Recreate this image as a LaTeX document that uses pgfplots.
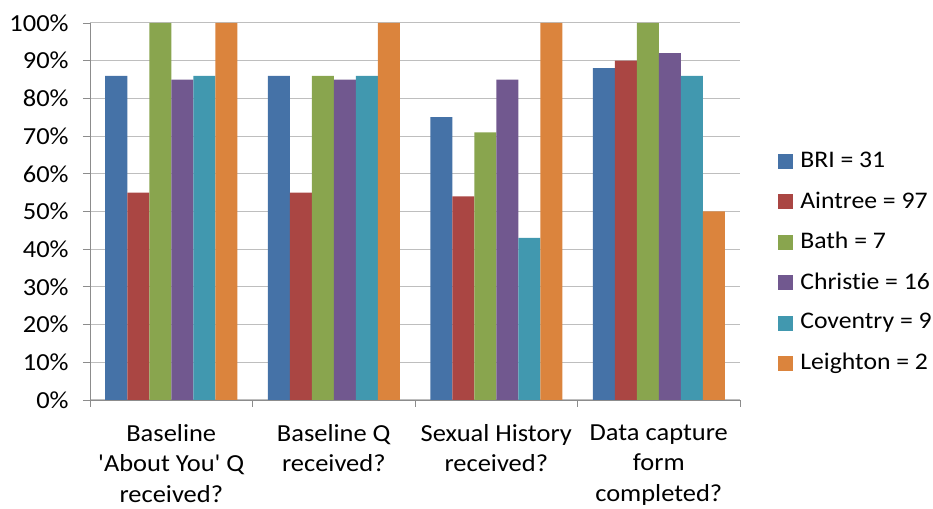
\documentclass[border=0pt]{standalone}
\usepackage{pgfplots}
\pgfplotsset{compat=1.18}
\usepackage{fontspec}
\setmainfont{Carlito}[Ligatures={TeXOff,CommonOff}, FakeStretch=1.08]

\definecolor{cBRI}{HTML}{4572A7}
\definecolor{cAin}{HTML}{AA4643}
\definecolor{cBath}{HTML}{89A54E}
\definecolor{cChr}{HTML}{71588F}
\definecolor{cCov}{HTML}{4198AF}
\definecolor{cLei}{HTML}{DB843D}
\definecolor{gridc}{HTML}{BEBEBE}
\definecolor{axisc}{HTML}{8C8C8C}

\begin{document}
\fontsize{24.5}{30.5}\selectfont
\begin{tikzpicture}
\useasboundingbox (0,0) rectangle (933pt,508pt);
\begin{axis}[
    at={(90pt,108pt)}, anchor=south west,
    scale only axis, width=650pt, height=377pt,
    ybar=0pt, bar width=22pt,
    xmin=0, xmax=4, ymin=0, ymax=100,
    axis lines=left, axis line style={-, draw=axisc, line width=0.8pt},
    xtick={0,1,2,3,4},
    x tick label as interval,
    xticklabels={Baseline\\'About You' Q\\received?, Baseline Q\\received?, Sexual History\\received?, Data capture\\form\\completed?},
    xticklabel style={align=center, anchor=north, yshift=-9pt},
    ytick={0,10,...,100},
    yticklabels={0\%,10\%,20\%,30\%,40\%,50\%,60\%,70\%,80\%,90\%,100\%},
    yticklabel style={anchor=east, xshift=-6pt},
    tick align=outside, major tick length=7pt,
    tick style={draw=axisc, line width=0.8pt},
    ymajorgrids, major grid style={draw=gridc, line width=1pt},
    legend style={at={(1.054,0.692)}, anchor=north west, draw=none, fill=none,
        font=\fontsize{23.8}{29}\selectfont,
        row sep=0pt, nodes={inner sep=0pt, minimum height=40.4pt, anchor=west},
        /tikz/every odd column/.append style={column sep=7pt}},
    legend cell align=left,
    legend image code/.code={\fill[#1] (0pt,-7.5pt) rectangle (15pt,7.5pt);},
]
\addplot[fill=cBRI, draw=none] coordinates {(0.5,86) (1.5,86) (2.5,75) (3.5,88)};
\addlegendentry{BRI = 31}
\addplot[fill=cAin, draw=none] coordinates {(0.5,55) (1.5,55) (2.5,54) (3.5,90)};
\addlegendentry{Aintree = 97}
\addplot[fill=cBath, draw=none] coordinates {(0.5,100) (1.5,86) (2.5,71) (3.5,100)};
\addlegendentry{Bath = 7}
\addplot[fill=cChr, draw=none] coordinates {(0.5,85) (1.5,85) (2.5,85) (3.5,92)};
\addlegendentry{Christie = 16}
\addplot[fill=cCov, draw=none] coordinates {(0.5,86) (1.5,86) (2.5,43) (3.5,86)};
\addlegendentry{Coventry = 9}
\addplot[fill=cLei, draw=none] coordinates {(0.5,100) (1.5,100) (2.5,100) (3.5,50)};
\addlegendentry{Leighton = 2}
\end{axis}
\end{tikzpicture}
\end{document}
